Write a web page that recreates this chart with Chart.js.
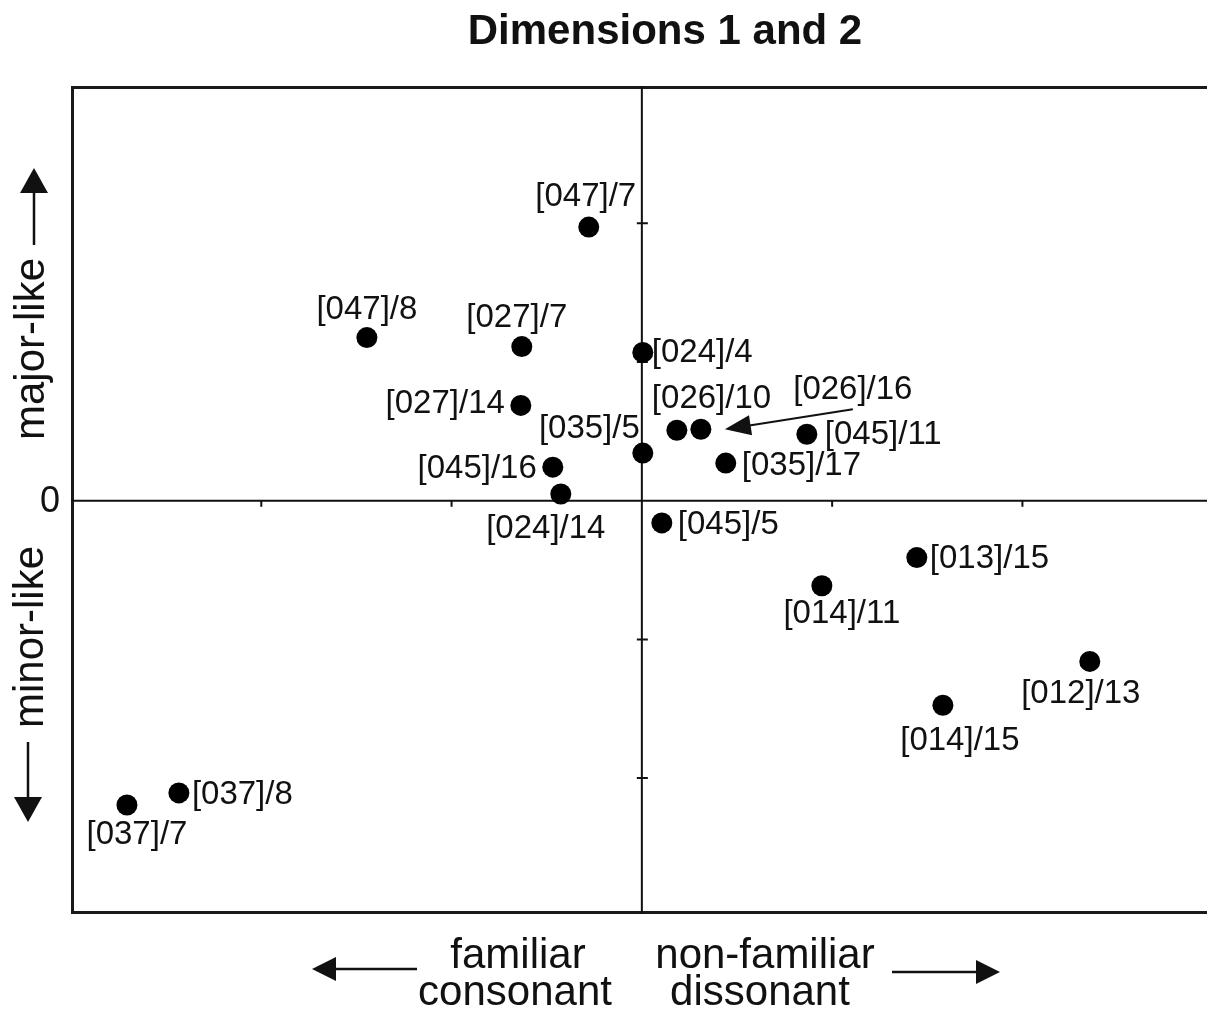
<!DOCTYPE html>
<html><head><meta charset="utf-8">
<script src="https://cdn.jsdelivr.net/npm/chart.js@4/dist/chart.umd.min.js"></script>
<style>html,body{margin:0;padding:0;background:#fff;}#wrap{width:1207px;height:1015px;}</style>
</head><body><div id="wrap"><canvas id="c" width="1207" height="1015"></canvas></div>
<script>
// ---- data ----
const pointLabels = ['[047]/7','[047]/8','[027]/7','[024]/4','[027]/14','[026]/10','[026]/16','[045]/11','[035]/5','[045]/16','[035]/17','[024]/14','[045]/5','[013]/15','[014]/11','[012]/13','[014]/15','[037]/8','[037]/7'];
const dim1 = [-0.279,-1.445,-0.631,0.005,-0.636,0.184,0.310,0.867,0.005,-0.468,0.441,-0.426,0.105,1.445,0.946,2.354,1.582,-2.433,-2.706];
const dim2 = [1.973,1.176,1.111,1.069,0.687,0.508,0.515,0.479,0.343,0.242,0.271,0.048,-0.160,-0.410,-0.613,-1.159,-1.475,-2.107,-2.194];
const axisTickValues = [-2,-1,1,2];
const yTickLabels = ['0'];
const titleText = 'Dimensions 1 and 2';
const xLeftText = ['familiar','consonant'];
const xRightText = ['non-familiar','dissonant'];
const yTopText = 'major-like';
const yBottomText = 'minor-like';

// ---- layout (label placement relative to each point, in px) ----
const labelLayout = [
  {a:'center',dx:-3,dy:-30},{a:'center',dx:0,dy:-28},{a:'center',dx:-5,dy:-29},{a:'left',dx:9,dy:0},
  {a:'right',dx:-16,dy:-2},{a:'left',dx:-25,dy:-31},{a:'center',dx:152,dy:-39,arrow:true},{a:'left',dx:18,dy:1},
  {a:'right',dx:-3,dy:-24},{a:'right',dx:-16,dy:2},{a:'left',dx:16,dy:3},{a:'center',dx:-15,dy:35},
  {a:'left',dx:16,dy:2},{a:'left',dx:13,dy:1},{a:'center',dx:20,dy:28},{a:'center',dx:-9,dy:32},
  {a:'center',dx:17,dy:36},{a:'left',dx:13,dy:2},{a:'center',dx:10,dy:30}
];
const FONT = '"Liberation Sans", Arial, Helvetica, sans-serif';
const INK = '#111';

function arrowHead(ctx, tx, ty, angle, len, half){
  ctx.save();ctx.translate(tx,ty);ctx.rotate(angle);
  ctx.beginPath();ctx.moveTo(0,0);ctx.lineTo(-len,-half);ctx.lineTo(-len,half);ctx.closePath();ctx.fill();
  ctx.restore();
}

const decor = {
  id:'decor',
  beforeDatasetsDraw(chart){
    const {ctx, chartArea:ca, scales:{x,y}} = chart;
    ctx.save();
    ctx.strokeStyle = '#1a1a1a'; ctx.lineWidth = 3;
    ctx.beginPath();
    ctx.moveTo(ca.right+5, ca.top+1.5); ctx.lineTo(ca.left+1.5, ca.top+1.5);
    ctx.lineTo(ca.left+1.5, ca.bottom-1.5); ctx.lineTo(ca.right+5, ca.bottom-1.5);
    ctx.stroke();
    // centre axes
    const x0 = x.getPixelForValue(0), y0 = y.getPixelForValue(0);
    ctx.lineWidth = 2; ctx.strokeStyle = INK;
    ctx.beginPath(); ctx.moveTo(x0, ca.top); ctx.lineTo(x0, ca.bottom);
    ctx.moveTo(ca.left, y0); ctx.lineTo(ca.right, y0); ctx.stroke();
    ctx.lineWidth = 2;
    ctx.beginPath();
    axisTickValues.forEach(v=>{
      const px = x.getPixelForValue(v); ctx.moveTo(px, y0); ctx.lineTo(px, y0+6);
      const py = y.getPixelForValue(v); ctx.moveTo(x0-5, py); ctx.lineTo(x0+6, py);
    });
    ctx.stroke();
    // y tick label "0"
    ctx.fillStyle = INK; ctx.font = '36px '+FONT; ctx.textAlign='center'; ctx.textBaseline='middle';
    ctx.fillText(yTickLabels[0], 50, y0+1);
    ctx.restore();
  },
  afterDatasetsDraw(chart){
    const {ctx, scales:{x,y}} = chart;
    ctx.save();
    ctx.fillStyle = INK; ctx.strokeStyle = INK;
    // title
    ctx.font = 'bold 42px '+FONT; ctx.textAlign='center'; ctx.textBaseline='alphabetic';
    ctx.fillText(titleText, 665, 44);
    // point labels
    ctx.font = '33px '+FONT; ctx.textBaseline='middle';
    pointLabels.forEach((t,i)=>{
      const L = labelLayout[i];
      const px = x.getPixelForValue(dim1[i]), py = y.getPixelForValue(dim2[i]);
      ctx.textAlign = L.a;
      ctx.fillText(t, px+L.dx, py+L.dy);
      if(L.arrow){
        const sx = px+L.dx, sy = py+L.dy+19, tx = px+24, ty = py;
        const ang = Math.atan2(ty-sy, tx-sx);
        ctx.lineWidth = 2;
        ctx.beginPath(); ctx.moveTo(sx, sy); ctx.lineTo(tx-20*Math.cos(ang), ty-20*Math.sin(ang)); ctx.stroke();
        arrowHead(ctx, tx, ty, ang, 26, 10);
      }
    });
    // x axis direction texts
    ctx.font = '42px '+FONT; ctx.textAlign='center'; ctx.textBaseline='alphabetic';
    ctx.fillText(xLeftText[0], 518, 968); ctx.fillText(xLeftText[1], 515, 1005);
    ctx.fillText(xRightText[0], 765, 968); ctx.fillText(xRightText[1], 760, 1005);
    ctx.lineWidth = 2.5;
    ctx.beginPath(); ctx.moveTo(417, 969); ctx.lineTo(330, 969); ctx.moveTo(892, 972); ctx.lineTo(980, 972); ctx.stroke();
    arrowHead(ctx, 312, 969, Math.PI, 24, 12);
    arrowHead(ctx, 1000, 972, 0, 24, 12);
    // y axis direction texts
    ctx.save(); ctx.translate(44, 349); ctx.rotate(-Math.PI/2); ctx.textAlign='center'; ctx.fillText(yTopText, 0, 0); ctx.restore();
    ctx.save(); ctx.translate(43, 637); ctx.rotate(-Math.PI/2); ctx.textAlign='center'; ctx.fillText(yBottomText, 0, 0); ctx.restore();
    ctx.beginPath(); ctx.moveTo(34, 245); ctx.lineTo(34, 188); ctx.moveTo(28, 742); ctx.lineTo(28, 800); ctx.stroke();
    arrowHead(ctx, 34, 168, -Math.PI/2, 25, 14);
    arrowHead(ctx, 28, 822, Math.PI/2, 25, 14);
    ctx.restore();
  }
};

new Chart(document.getElementById('c'), {
  type:'scatter',
  data:{ datasets:[{
    data: dim1.map((v,i)=>({x:v, y:dim2[i]})),
    backgroundColor:'#000', borderWidth:0, pointRadius:10.5, pointHoverRadius:10.5
  }]},
  options:{
    responsive:false, devicePixelRatio:1, animation:false,
    layout:{ autoPadding:false, padding:{left:71, top:86, right:0, bottom:101} },
    plugins:{ legend:{display:false}, title:{display:false}, tooltip:{enabled:false} },
    scales:{
      x:{ type:'linear', min:-3.0, max:2.97, display:false },
      y:{ type:'linear', min:-2.98, max:2.99, display:false }
    }
  },
  plugins:[decor]
});
</script></body></html>
